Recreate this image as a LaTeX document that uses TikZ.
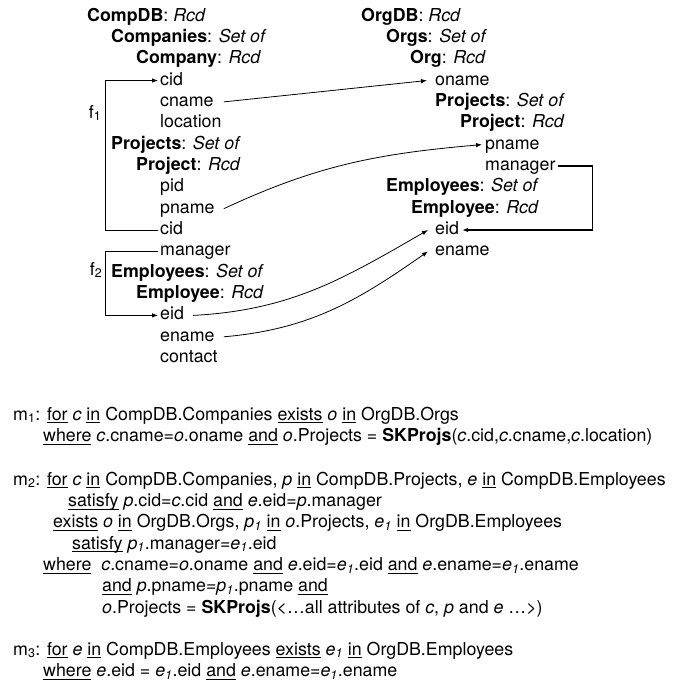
\documentclass[tikz,border=0pt]{standalone}
\usepackage{fontspec}
\setmainfont{TeX Gyre Heros}
\usetikzlibrary{arrows.meta, positioning, calc}

% keyword with a fixed underline
\newcommand{\kw}[1]{\setbox0=\hbox{#1}\rlap{\rule[-3.3pt]{\wd0}{1.1pt}}\box0\relax}
\newcommand{\rcd}[1]{\textbf{#1}: \textit{Rcd}}
\newcommand{\setof}[1]{\textbf{#1}: \textit{Set of}}
\newcommand{\pone}{\textit{p}\textsubscript{\textit{1}}}
\newcommand{\eone}{\textit{e}\textsubscript{\textit{1}}}

\begin{document}
\begin{tikzpicture}[
      x=1pt, y=1pt,
      font=\fontsize{17.8pt}{21.35pt}\selectfont,
      fld/.style={anchor=base west, inner sep=0pt, text height=11pt, text depth=2pt},
      mline/.style={anchor=base west, inner sep=0pt},
      arr/.style={-{Latex[length=6pt,width=4.5pt]}, line width=0.8pt}
    ]
    \useasboundingbox (0,0) rectangle (689,-686);
    % source schema
    \node[fld] (cdb)      at (87,-21)    {\rcd{CompDB}};
    \node[fld] (ccos)     at (111,-42.4) {\setof{Companies}};
    \node[fld] (cco)      at (136,-63.7) {\rcd{Company}};
    \node[fld] (ccid)     at (160,-85)   {cid};
    \node[fld] (ccname)   at (160,-106.4){cname};
    \node[fld] (cloc)     at (160,-127.8){location};
    \node[fld] (cprojs)   at (111,-149.1){\setof{Projects}};
    \node[fld] (cproj)    at (136,-170.5){\rcd{Project}};
    \node[fld] (cpid)     at (160,-191.8){pid};
    \node[fld] (cpname)   at (160,-213.2){pname};
    \node[fld] (cpcid)    at (160,-234.5){cid};
    \node[fld] (cpmgr)    at (160,-255.9){manager};
    \node[fld] (cemps)    at (111,-277.2){\setof{Employees}};
    \node[fld] (cemp)     at (136,-298.6){\rcd{Employee}};
    \node[fld] (ceid)     at (160,-319.9){eid};
    \node[fld] (cename)   at (160,-341.3){ename};
    \node[fld] (ccontact) at (160,-362.6){contact};
    % target schema
    \node[fld] (odb)    at (361,-21)    {\rcd{OrgDB}};
    \node[fld] (oorgs)  at (386,-42.4)  {\setof{Orgs}};
    \node[fld] (oorg)   at (410,-63.7)  {\rcd{Org}};
    \node[fld] (oname)  at (435,-85)    {oname};
    \node[fld] (oprojs) at (435,-106.4) {\setof{Projects}};
    \node[fld] (oproj)  at (460,-127.8) {\rcd{Project}};
    \node[fld] (opname) at (485,-149.1) {pname};
    \node[fld] (omgr)   at (485,-170.5) {manager};
    \node[fld] (oemps)  at (386,-191.8) {\setof{Employees}};
    \node[fld] (oemp)   at (411,-213.2) {\rcd{Employee}};
    \node[fld] (oeid)   at (435,-234.5) {eid};
    \node[fld] (oename) at (435,-255.9) {ename};
    % foreign keys
    \node (f1) at (95,-113) {f\textsubscript{1}};
    \node (f2) at (96,-270) {f\textsubscript{2}};
    \draw[arr] ([xshift=-2pt]cpcid.west) -- ++(-53,0) |- ([xshift=-2pt]ccid.west);
    \draw[arr] ([xshift=-2pt]cpmgr.west) -- ++(-53,0) |- ([xshift=-2pt]ceid.west);
    \draw[arr, line width=1.3pt] ([xshift=2pt]omgr.east) -- ++(35,0) |- ([xshift=3pt]oeid.east);
    % correspondences
    \draw[arr] ([xshift=10pt]ccname.east) -- ([xshift=-8pt]oname.west);
    \draw[arr] ([xshift=9pt]cpname.east) to[out=25, in=185] ([xshift=-3pt]opname.west);
    \draw[arr] ([xshift=9pt]ceid.east) to[out=3, in=210] ([xshift=-7pt]oeid.west);
    \draw[arr] ([xshift=9pt]cename.east) to[out=5, in=215] ([xshift=-7pt]oename.west);
    % mappings
    \node[mline] (m1a) at (13,-420)   {m\textsubscript{1}: \kw{for} \textit{c} \kw{in} CompDB.Companies \kw{exists} \textit{o} \kw{in} OrgDB.Orgs};
    \node[mline] (m1b) at (43,-441.4) {\kw{where} \textit{c}.cname=\textit{o}.oname \kw{and} \textit{o}.Projects = \textbf{SKProjs}(\textit{c}.cid,\textit{c}.cname,\textit{c}.location)};
    \node[mline] (m2a) at (13,-485)   {m\textsubscript{2}: \kw{for} \textit{c} \kw{in} CompDB.Companies, \textit{p} \kw{in} CompDB.Projects, \textit{e} \kw{in} CompDB.Employees};
    \node[mline] (m2b) at (68,-506.4) {\kw{satisfy} \textit{p}.cid=\textit{c}.cid \kw{and} \textit{e}.eid=\textit{p}.manager};
    \node[mline] (m2c) at (53,-527.7) {\kw{exists} \textit{o} \kw{in} OrgDB.Orgs, \pone\ \kw{in} \textit{o}.Projects, \eone\ \kw{in} OrgDB.Employees};
    \node[mline] (m2d) at (72,-549.1) {\kw{satisfy} \pone.manager=\eone.eid};
    \node[mline] (m2e) at (43,-570.4) {\kw{where}\ \ \textit{c}.cname=\textit{o}.oname \kw{and} \textit{e}.eid=\eone.eid \kw{and} \textit{e}.ename=\eone.ename};
    \node[mline] (m2f) at (102,-591.8){\kw{and} \textit{p}.pname=\pone.pname \kw{and}};
    \node[mline] (m2g) at (102,-613.1){\textit{o}.Projects = \textbf{SKProjs}(<…all attributes of \textit{c}, \textit{p} and \textit{e} …>)};
    \node[mline] (m3a) at (13,-655)   {m\textsubscript{3}: \kw{for} \textit{e} \kw{in} CompDB.Employees \kw{exists} \eone\ \kw{in} OrgDB.Employees};
    \node[mline] (m3b) at (43,-676.4) {\kw{where} \textit{e}.eid = \eone.eid \kw{and} \textit{e}.ename=\eone.ename};
  \end{tikzpicture}
\end{document}
